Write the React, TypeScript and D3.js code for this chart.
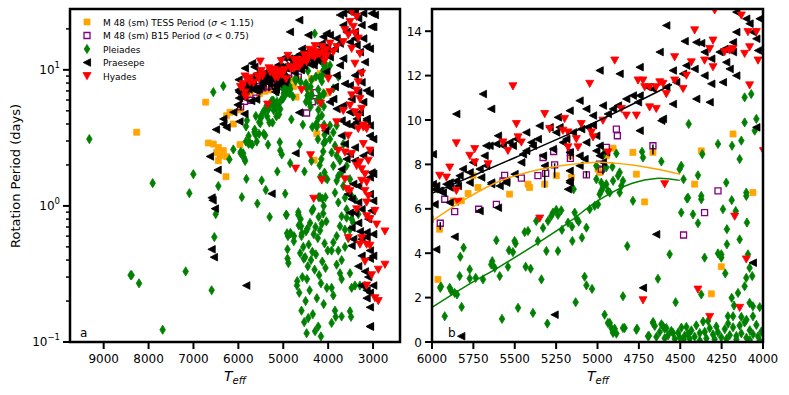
import React from 'react';
import * as d3 from 'd3';

// M 48 TESS periods (orange squares) [Teff, P]
const tessPts: [number, number][] = [
  [4181, 9.37], [4373, 8.61], [4665, 8.54], [4786, 8.54], [4906, 8.73], [4947, 8.39], [5162, 8.39],
  [5752, 7.49], [5722, 6.96], [5782, 6.69], [5531, 6.66], [5420, 7.11], [5410, 6.96], [5319, 7.11],
  [5249, 7.49], [5158, 7.41], [4997, 7.79], [4987, 7.64], [4765, 7.56], [4061, 6.73], [4413, 7.11],
  [5964, 2.82], [5954, 5.08], [5873, 6.36], [5823, 6.36], [4715, 6.31], [4252, 3.39], [4312, 2.17],
  [6728, 5.79], [8265, 3.48], [6669, 2.9], [6558, 2.85], [6446, 2.69], [6483, 2.47], [6409, 2.34],
  [6446, 2.15], [6276, 1.64], [6335, 2.55], [6261, 2.3], [6112, 4.0], [6186, 4.88], [6261, 4.6],
];

// M 48 B15 periods (open purple squares)
const b15Pts: [number, number][] = [
  [4886, 9.59], [4880, 9.29], [4947, 8.77], [4665, 8.84], [5329, 8.31], [5265, 8.58], [5164, 8.54],
  [5164, 8.27], [5259, 7.98], [4987, 8.01], [4977, 7.79], [5067, 7.53], [5360, 7.49], [5313, 7.6],
  [5561, 7.51], [5571, 7.26], [5460, 7.38], [5923, 6.43], [5950, 5.35], [5863, 5.87], [5718, 5.98],
  [5611, 6.2], [4272, 6.81], [4353, 5.83], [4480, 4.82],
];

// error bars [Teff, low, high]
const errBars: [number, number, number][] = [
  [5319, 6.95, 7.75], [5259, 7.4, 8.05], [4665, 8.45, 8.9], [4967, 7.55, 8.1],
  [5950, 5.05, 5.4], [5164, 8.2, 8.6], [5067, 7.4, 7.7],
];

const pleiadesPts: [number, number][] = [
  [4111, 11.02], [4071, 11.17], [4040, 10.05], [4111, 9.89], [4050, 9.52], [4449, 9.82], [4272, 8.92],
  [4187, 8.84], [4131, 9.07], [4367, 8.46], [4141, 8.24], [4614, 8.13], [4731, 8.57], [4725, 8.31],
  [4886, 8.49], [4963, 8.46], [4910, 7.89], [5007, 7.94], [4947, 7.86], [4866, 7.64], [4876, 7.49],
  [4846, 7.26], [4906, 7.26], [5007, 7.33], [4977, 7.18], [4947, 7.11], [4937, 6.81], [5144, 6.88],
  [4494, 7.94], [4504, 7.79], [4480, 7.33], [4393, 7.51], [4222, 7.18], [4101, 6.73], [4453, 6.5],
  [4373, 6.58],
  [5950, 2.44], [5946, 2.5], [5923, 1.16], [5893, 2.44], [5883, 2.29], [5863, 2.21], [5849, 2.14],
  [5821, 1.58], [5829, 3.84], [5809, 4.25], [5833, 2.97], [5772, 3.27], [5772, 2.86], [5736, 2.89],
  [5692, 2.82], [5636, 3.64], [5642, 3.49], [5621, 3.34], [5591, 2.97], [5611, 4.58], [5577, 1.04],
  [5541, 3.39], [5535, 4.13], [5511, 4.05], [5501, 4.55], [5495, 4.44], [5480, 1.54], [5440, 4.95],
  [5434, 3.39], [5420, 5.0], [5404, 3.3], [5390, 1.31], [5370, 5.45], [5360, 4.55], [5339, 2.82],
  [5329, 5.14], [5309, 4.1], [5303, 0.83], [5299, 5.45], [5279, 5.68], [5269, 5.83], [5249, 5.95],
  [5239, 4.1], [5239, 5.72], [5219, 5.93], [5215, 5.05], [5178, 5.38], [5154, 5.2], [5152, 4.55],
  [5138, 5.83], [5132, 1.79], [5124, 5.53], [5114, 5.42], [5094, 4.7], [5078, 2.94], [5067, 5.15],
  [5067, 2.55], [5047, 5.98], [5033, 2.39], [5017, 6.13], [4997, 6.2], [4987, 6.66], [4977, 6.81],
  [4967, 6.96], [4957, 1.23], [4937, 0.86], [4926, 6.73], [4916, 0.63], [4906, 0.41], [4896, 0.6],
  [4866, 6.73], [4856, 7.03], [4846, 2.06], [4836, 0.63], [4820, 4.32], [4786, 6.36], [4761, 0.6],
  [4695, 0.26], [4665, 0.86], [4635, 2.85], [4604, 0.71], [4584, 0.63], [4564, 3.95], [4544, 0.41],
  [4528, 1.79], [4494, 5.83], [4459, 6.46], [4423, 5.75], [4393, 5.35], [4373, 6.43], [4373, 2.14],
  [4353, 3.8], [4272, 3.99], [4252, 3.95], [4252, 3.8], [4228, 3.09], [4242, 5.98], [4218, 5.08],
  [4218, 4.4], [4189, 6.39], [4175, 1.64], [4189, 1.99], [4165, 5.9], [4151, 2.21], [4141, 4.62],
  [4131, 1.13], [4111, 2.51], [4101, 2.89], [4101, 6.58], [4097, 5.38], [4091, 3.95], [4081, 3.34],
  [4065, 2.97], [4061, 1.61], [4020, 1.57], [4212, 1.16], [4081, 1.76], [4061, 1.16],
  [4926, 0.86], [4906, 0.48], [4886, 0.38], [4846, 0.63], [4765, 0.55], [4689, 0.28], [4664, 0.9],
  [4654, 0.72], [4624, 0.45], [4614, 0.8], [4594, 0.6], [4574, 0.3], [4554, 0.5], [4513, 0.42],
  [4503, 0.2], [4463, 0.68], [4453, 0.36], [4433, 0.52], [4413, 0.24], [4403, 0.75], [4382, 0.4],
  [4362, 0.92], [4352, 0.46], [4342, 0.16], [4322, 0.62], [4302, 0.34], [4282, 0.7], [4272, 0.44],
  [4252, 0.21], [4231, 0.58], [4211, 0.83], [4201, 0.31], [4181, 0.66], [4161, 0.27], [4141, 0.74],
  [4131, 0.39], [4111, 0.88], [4100, 0.19], [4080, 0.53], [4060, 0.35], [4040, 0.77], [4030, 0.25],
  [4010, 0.47], [4443, 0.15], [4533, 0.14], [4493, 0.65], [4594, 0.17], [4644, 0.23], [4292, 0.12],
  [4161, 0.11], [4382, 0.07], [4473, 0.29], [4221, 0.13], [4080, 0.09], [4020, 0.05], [4332, 0.95],
  [4100, 1.0], [4181, 1.16],
  [9319, 3.1], [6558, 6.86], [6335, 7.6], [7909, 1.47], [7003, 1.71], [7092, 1.24], [8377, 0.31],
  [8399, 0.31], [8213, 0.27], [7174, 0.33], [7686, 0.123], [6595, 0.24], [6535, 0.59], [6446, 1.4],
  [6505, 0.87], [4479, 0.116], [3833, 0.153], [3491, 0.153], [4300, 18.5], [6112, 2.6], [6200, 2.2],
  [3960, 3.1], [3923, 2.47], [3885, 1.97], [3811, 1.53], [3848, 1.25], [3774, 1.06], [3700, 0.84],
  [3737, 0.71], [3811, 0.6], [3885, 0.54], [3923, 0.47], [3774, 0.47], [3700, 0.4], [3626, 0.5],
  [3552, 0.58], [3514, 0.32], [3737, 0.32], [3811, 0.37], [3700, 0.29], [3477, 0.25], [3403, 0.26],
  [3885, 0.22], [3923, 0.25], [3700, 0.154], [3848, 0.17], [3514, 0.168], [3923, 0.138], [3589, 0.945],
  [3663, 1.4], [3700, 1.76], [3626, 1.15], [3477, 0.8], [3440, 0.75], [3514, 0.67], [3626, 0.67],
  [3589, 0.82], [3477, 1.18], [3403, 1.12], [3329, 0.87], [3292, 0.26], [3774, 1.66], [3811, 2.34],
  [3848, 2.77], [3885, 3.47], [3960, 3.9], [3811, 3.9], [3663, 2.85], [3737, 2.15], [3589, 1.97],
  [3514, 1.57], [3774, 8.9], [3885, 7.3], [3960, 10.8],
];

const praesepePts: [number, number][] = [
  [4584, 14.26], [4473, 13.55], [4403, 13.5], [4373, 13.46], [4353, 13.06], [4312, 12.76], [4262, 13.06],
  [4232, 13.2], [4181, 13.5], [4161, 14.86], [4101, 14.56], [4081, 14.34], [4061, 13.96], [4040, 13.66],
  [4020, 14.56], [4030, 13.13], [4161, 13.96], [4181, 13.06], [4222, 12.6], [4161, 12.0], [4201, 12.3],
  [4242, 11.7], [4312, 11.63], [4353, 12.0], [4413, 12.3], [4463, 12.45], [4483, 12.08], [4544, 12.23],
  [4624, 13.06], [4745, 12.38], [4987, 12.23], [4866, 12.08], [4403, 10.95], [4322, 10.8], [4544, 10.72],
  [4604, 10.05], [4614, 9.97], [4745, 9.52], [4786, 11.1], [4826, 10.95], [4755, 10.8], [4745, 11.1],
  [4695, 11.48], [4665, 11.4], [4584, 11.48], [4524, 11.7], [4967, 10.65], [4906, 10.5], [4876, 10.65],
  [4937, 10.27], [5027, 10.2], [5067, 10.5], [5108, 10.87], [5168, 10.42], [5239, 10.12], [5229, 9.67],
  [5289, 9.67], [5249, 9.44], [5188, 9.14], [5148, 9.44], [5098, 9.59], [5057, 9.67], [5027, 9.77],
  [5007, 9.29], [4987, 8.84], [5067, 8.99], [5108, 8.39], [5168, 8.54], [5209, 8.99], [5269, 8.69],
  [5350, 9.74], [5360, 9.14], [5430, 9.44], [5390, 8.84], [5490, 9.14], [5511, 8.84], [5531, 8.99],
  [5601, 9.29], [5571, 8.84], [5611, 8.92], [5652, 8.84], [5642, 10.5], [5692, 11.17], [5853, 10.27],
  [5672, 8.84], [5682, 8.39], [5672, 7.94], [5712, 7.79], [5752, 8.09], [5772, 7.64], [5813, 7.79],
  [5833, 7.49], [5853, 7.26], [5913, 7.11], [5954, 6.81], [5974, 7.03], [5984, 6.88], [5934, 6.73],
  [5893, 7.18], [5772, 7.18], [5702, 7.41], [5642, 7.11], [5591, 7.03], [5551, 7.26], [5501, 7.56],
  [5460, 8.09], [5450, 8.46], [5430, 8.61], [5400, 8.99], [5329, 8.39], [5319, 7.94], [5168, 7.26],
  [5178, 6.88], [5168, 7.71], [5108, 7.94], [5078, 8.24], [4987, 8.39], [4967, 8.09], [4947, 8.54],
  [5007, 8.61], [4040, 9.67], [5994, 8.46],
  [5994, 7.11], [5954, 6.81], [5893, 6.96], [5843, 7.03], [5984, 6.2], [5893, 6.28], [5712, 5.9],
  [5601, 6.05], [5642, 7.18], [5551, 7.18], [5168, 7.18], [5863, 4.74], [5974, 4.17], [5259, 1.23],
  [5823, 0.26], [4725, 2.44], [4645, 4.85], [4061, 3.57],
  [6335, 4.36], [6261, 3.78], [6112, 4.88], [6016, 5.53], [6632, 2.31], [6461, 1.84], [6595, 1.15],
  [6573, 1.1], [6521, 0.955], [6595, 0.48], [6543, 0.42], [3068, 0.13], [6498, 3.64], [6335, 4.0],
  [3700, 4.24], [3589, 4.0], [3366, 4.12], [3143, 4.24], [3069, 3.28], [2995, 3.1], [3069, 2.47],
  [3403, 2.69], [3514, 2.41], [3589, 2.21], [3700, 1.86], [3403, 2.15], [3032, 1.76], [2995, 1.72],
  [3069, 1.62], [3440, 1.45], [3552, 1.22], [3477, 1.12], [3329, 1.06], [3069, 1.22], [2995, 1.09],
  [3255, 0.945], [3403, 0.89], [3032, 0.92], [3106, 0.8], [3329, 0.75], [3477, 0.69], [3292, 0.65],
  [3143, 0.64], [2995, 0.62], [3440, 0.57], [3255, 0.57], [3477, 0.51], [3143, 0.59], [3069, 0.47],
  [3255, 0.43], [3329, 0.36], [3069, 0.41], [2995, 0.43], [3180, 0.33], [3106, 0.3], [3255, 0.26],
  [3143, 0.24], [3069, 0.23], [3143, 0.21], [2995, 0.26], [3069, 0.18], [3069, 0.13], [3700, 3.28],
  [3626, 2.85], [3217, 2.34], [3329, 1.4], [3514, 0.89],
  [2957, 25.3], [3032, 20.7], [3217, 26], [3329, 23.9], [3403, 26.7], [3514, 26.7], [3663, 26],
  [3737, 25.3], [4643, 23.2], [4850, 19], [4442, 18], [4108, 17.5], [4034, 18.5], [3960, 18],
  [3589, 19], [3403, 17], [3255, 21.3], [3217, 17], [3292, 13.5], [3180, 11.4], [3292, 9.6],
  [3255, 8.1], [3143, 7.05], [3329, 6.85], [3217, 5.8], [3292, 4.88], [3366, 4.36], [3477, 3.9],
  [3143, 4.36], [3069, 6.7], [3514, 7.68], [3477, 6.1], [3403, 9.1], [3663, 12.1], [3737, 10.8],
  [3811, 9.1], [3626, 7.9], [3849, 7.5], [3885, 6.1], [3514, 4.88], [3663, 5.47], [3811, 5.17],
  [3960, 5.8], [4145, 15.6], [3737, 15.6], [3514, 16], [3366, 15.2], [3143, 14.8], [3069, 14.3],
  [3403, 19], [3663, 21.3], [3811, 17], [3849, 14.3], [3960, 12.4], [3069, 3.9], [2994, 20.7],
  [3031, 26],
];

const hyadesPts: [number, number][] = [
  [4292, 14.94], [4131, 14.71], [4413, 14.04], [4302, 13.58], [4091, 13.96], [4040, 13.96], [4353, 12.68],
  [4322, 13.2], [4232, 13.06], [4201, 13.13], [4181, 13.2], [4111, 12.98], [4081, 13.28], [4030, 12.68],
  [4433, 12.6], [4302, 12.38], [4534, 12.83], [4463, 12.0], [4483, 11.4], [4624, 11.7], [4645, 11.48],
  [4685, 11.48], [4715, 11.48], [4755, 11.78], [4725, 11.78], [4584, 11.17], [4604, 11.63], [4534, 11.78],
  [4081, 11.56], [4896, 12.68], [5047, 11.63], [5511, 11.52], [5319, 10.27], [5490, 9.82], [5289, 9.59],
  [5199, 10.05], [5209, 9.52], [5178, 9.44], [5098, 9.82], [5037, 9.44], [5027, 9.22], [4967, 9.97],
  [4856, 10.5], [4826, 10.2], [4765, 10.2], [4685, 10.57], [4645, 10.5], [5128, 9.14], [5178, 8.77],
  [5118, 8.77], [4937, 8.54], [5571, 8.99], [5541, 8.61], [5480, 9.22], [5460, 8.99], [5853, 8.95],
  [5742, 8.69], [5772, 8.39], [5742, 8.09], [5662, 8.01], [5893, 7.86], [5954, 7.49], [5913, 7.41],
  [5853, 6.81], [4594, 7.11], [5843, 6.31], [5349, 5.56], [4725, 1.88], [4171, 5.65], [4101, 3.72],
  [4393, 2.36], [4322, 1.13], [4141, 1.54],
  [3329, 3.68], [3217, 3.78], [3143, 3.68], [3552, 3.28], [3774, 2.55], [3626, 2.47], [3477, 2.41],
  [3217, 2.85], [3069, 2.55], [3106, 2.15], [3292, 2.09], [3366, 1.97], [3255, 1.86], [3180, 1.71],
  [3255, 1.53], [3143, 1.49], [3626, 1.57], [3589, 1.33], [3514, 1.29], [3180, 1.29], [3106, 1.18],
  [3143, 1.06], [3366, 0.945], [3143, 0.84], [3069, 0.8], [2958, 0.92], [2921, 0.73], [2735, 0.65],
  [3255, 0.58], [3292, 0.52], [3143, 0.52], [3069, 0.51], [3180, 0.39], [2883, 0.34], [2735, 0.37],
  [3032, 0.31], [3143, 0.26], [2958, 0.21], [2883, 0.2], [3552, 0.58],
  [3477, 26.7], [3366, 24.5], [3514, 22.5], [3440, 20.7], [3626, 19.6], [3551, 18], [3403, 18.5],
  [3329, 17], [3663, 16], [3811, 14.7], [3885, 13.5], [3960, 15.6], [3477, 14.3], [3292, 13.1],
  [3403, 11.1], [3255, 9.4], [3329, 8.1], [3366, 7.05], [3477, 6.5], [3292, 6.1], [3255, 5.17],
  [3403, 4.88], [3329, 4.5], [3217, 3.9], [3514, 5.47], [3663, 5.0], [3811, 4.12], [3960, 6.85],
  [3997, 8.6],
];

// polynomial fits in panel b
const fitPraesepe: [number, number][] = [[6000, 6.7], [5500, 8.3], [5000, 9.95], [4550, 11.6]];
const fitTess: [number, number][] = [
  [6000, 5.45], [5790, 6.47], [5590, 7.25], [5390, 7.7], [5190, 7.97], [4990, 8.1], [4790, 7.97],
  [4585, 7.7], [4500, 7.55],
];
const fitPleiades: [number, number][] = [
  [6000, 1.56], [5790, 2.54], [5590, 3.4], [5390, 4.32], [5190, 5.3], [4990, 6.4], [4790, 7.15],
  [4645, 7.37], [4503, 7.28],
];

const aXTicks = [9000, 8000, 7000, 6000, 5000, 4000, 3000];
const bXTicks = [6000, 5750, 5500, 5250, 5000, 4750, 4500, 4250, 4000];
const bYTicks = [0, 2, 4, 6, 8, 10, 12, 14];
const aYMajor = [0.1, 1, 10];
const aYExp = ['\u22121', '0', '1'];

const ORANGE = '#ffa500';
const PURPLE = '#800080';
const GREEN = '#008000';
const RED = '#ff0000';

const SQ = 'M-3,-3L3,-3L3,3L-3,3Z';
const LTRI = 'M-3.8,0L3.6,-3.8L3.6,3.8Z';
const DTRI = 'M-4,-3.5L4,-3.5L0,3.7Z';
const DIAM = 'M0,-4.6L2.8,0L0,4.6L-2.8,0Z';

const font = 'DejaVu Sans, sans-serif';

const Marks = ({ pts, path, fill, stroke, x, y, sw = 0.8 }: any) => (
  <g>
    {pts.map((d: [number, number], i: number) => (
      <path key={i} d={path} transform={`translate(${x(d[0])},${y(d[1])})`}
        fill={fill} stroke={stroke} strokeWidth={sw} />
    ))}
  </g>
);

const TeffLabel = ({ cx }: { cx: number }) => (
  <text x={cx} y={381} textAnchor="middle" fontFamily={font} fontSize={14}>
    <tspan fontStyle="italic">T</tspan>
    <tspan fontStyle="italic" fontSize={10} dy={3}>eff</tspan>
  </text>
);

export default function App() {
  const A = { l: 70, r: 400, t: 9, b: 342 };
  const B = { l: 432, r: 763, t: 9, b: 342 };

  const xa = d3.scaleLinear().domain([9750, 2400]).range([A.l, A.r]);
  const ya = d3.scaleLog().domain([0.1, 28]).range([A.b, A.t]);
  const xb = d3.scaleLinear().domain([6000, 4000]).range([B.l, B.r]);
  const yb = d3.scaleLinear().domain([0, 15]).range([B.b, B.t]);

  const line = d3.line<[number, number]>().x(d => xb(d[0])).y(d => yb(d[1])).curve(d3.curveCatmullRom);

  const minorA: number[] = [];
  [0.1, 1, 10].forEach(dec => { for (let k = 2; k <= 9; k++) if (dec * k <= 28) minorA.push(dec * k); });

  const legend = [
    { path: SQ, fill: ORANGE, stroke: ORANGE, label: 'TESS', sig: '1.15' },
    { path: SQ, fill: 'none', stroke: PURPLE, label: 'B15', sig: '0.75' },
    { path: DIAM, fill: GREEN, stroke: GREEN, label: 'Pleiades' },
    { path: LTRI, fill: '#000', stroke: '#000', label: 'Praesepe' },
    { path: DTRI, fill: RED, stroke: RED, label: 'Hyades' },
  ];

  const panel = (x: any, y: any, id: string) => (
    <g clipPath={`url(#${id})`}>
      <Marks pts={tessPts} path={SQ} fill={ORANGE} stroke={ORANGE} x={x} y={y} />
      <Marks pts={b15Pts} path={SQ} fill="none" stroke={PURPLE} x={x} y={y} sw={1.3} />
      {errBars.map((d, i) => (
        <line key={i} x1={x(d[0])} x2={x(d[0])} y1={y(d[1])} y2={y(d[2])} stroke="#000" strokeWidth={1.5} />
      ))}
      <Marks pts={pleiadesPts} path={DIAM} fill={GREEN} stroke={GREEN} x={x} y={y} />
      <Marks pts={praesepePts} path={LTRI} fill="#000" stroke="#000" x={x} y={y} />
      <Marks pts={hyadesPts} path={DTRI} fill={RED} stroke={RED} x={x} y={y} />
    </g>
  );

  return (
    <svg width={789} height={395} style={{ position: 'absolute', left: 0, top: 0 }} fontFamily={font}>
      <defs>
        <clipPath id="ca"><rect x={A.l} y={A.t} width={A.r - A.l} height={A.b - A.t} /></clipPath>
        <clipPath id="cb"><rect x={B.l} y={B.t} width={B.r - B.l} height={B.b - B.t} /></clipPath>
      </defs>
      <rect width={789} height={395} fill="#fff" />

      {/* panel a */}
      {panel(xa, ya, 'ca')}
      <rect x={A.l} y={A.t} width={A.r - A.l} height={A.b - A.t} fill="none" stroke="#000" strokeWidth={2.5} />
      {aXTicks.map(t => (
        <g key={t}>
          <line x1={xa(t)} x2={xa(t)} y1={A.b} y2={A.b + 7} stroke="#000" strokeWidth={2} />
          <text x={xa(t)} y={A.b + 21} textAnchor="middle" fontSize={12}>{t}</text>
        </g>
      ))}
      {aYMajor.map((t, i) => (
        <g key={t}>
          <line x1={A.l - 7} x2={A.l} y1={ya(t)} y2={ya(t)} stroke="#000" strokeWidth={2} />
          <text x={A.l - 10} y={ya(t) + 4} textAnchor="end" fontSize={12}>
            10<tspan fontSize={8.5} dy={-6}>{aYExp[i]}</tspan>
          </text>
        </g>
      ))}
      {minorA.map(t => (
        <line key={t} x1={A.l - 4} x2={A.l} y1={ya(t)} y2={ya(t)} stroke="#000" strokeWidth={1.5} />
      ))}
      <text transform="translate(20,176) rotate(-90)" textAnchor="middle" fontSize={13}>Rotation Period (days)</text>
      <TeffLabel cx={235} />
      <text x={80} y={337} fontSize={12}>a</text>

      {legend.map((d, i) => (
        <g key={i} transform={`translate(0,${22 + i * 13.5})`}>
          <path d={d.path} transform="translate(87,0)" fill={d.fill} stroke={d.stroke} strokeWidth={d.fill === 'none' ? 1.3 : 0.8} />
          <text x={103} y={3.5} fontSize={9}>
            {d.sig ? (
              <>M 48 (sm) {d.label} Period (<tspan fontStyle="italic">σ</tspan> &lt; {d.sig})</>
            ) : d.label}
          </text>
        </g>
      ))}

      {/* panel b */}
      {panel(xb, yb, 'cb')}
      <g clipPath="url(#cb)">
        <path d={line(fitPleiades) || ''} fill="none" stroke={GREEN} strokeWidth={1.5} />
        <path d={line(fitTess) || ''} fill="none" stroke={ORANGE} strokeWidth={1.5} />
        <path d={line(fitPraesepe) || ''} fill="none" stroke="#000" strokeWidth={1.5} />
      </g>
      <rect x={B.l} y={B.t} width={B.r - B.l} height={B.b - B.t} fill="none" stroke="#000" strokeWidth={2.5} />
      {bXTicks.map(t => (
        <g key={t}>
          <line x1={xb(t)} x2={xb(t)} y1={B.b} y2={B.b + 7} stroke="#000" strokeWidth={2} />
          <text x={xb(t)} y={B.b + 21} textAnchor="middle" fontSize={12}>{t}</text>
        </g>
      ))}
      {bYTicks.map(t => (
        <g key={t}>
          <line x1={B.l - 7} x2={B.l} y1={yb(t)} y2={yb(t)} stroke="#000" strokeWidth={2} />
          <text x={B.l - 10} y={yb(t) + 4.5} textAnchor="end" fontSize={12}>{t}</text>
        </g>
      ))}
      <TeffLabel cx={598} />
      <text x={448} y={337} fontSize={12}>b</text>
    </svg>
  );
}
